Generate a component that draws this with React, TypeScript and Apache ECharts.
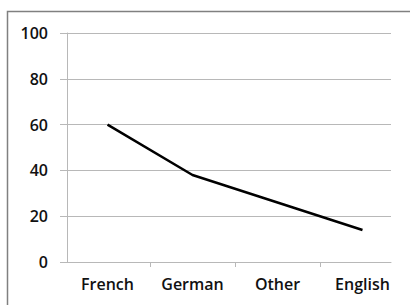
import React, { useEffect, useRef } from "react";
import * as echarts from "echarts";

const categories = ["French", "German", "Other", "English"];
const values = [60, 38, 26, 14];
const yTicks = { min: 0, max: 100, interval: 20 };
const categoryIndex = categories.map((_, i) => i);
const categoryBoundaries = categories.slice(1).map((_, i) => i + 0.5);

export default function App() {
  const ref = useRef<HTMLDivElement>(null);
  useEffect(() => {
    if (!ref.current) return;
    const chart = echarts.init(ref.current, undefined, { renderer: "svg" });
    const labelFont = {
      fontFamily: "'Open Sans', 'Noto Sans', sans-serif",
      fontSize: 16,
      fontWeight: 600,
      color: "#111",
    };
    chart.setOption({
      animation: false,
      backgroundColor: "#fff",
      graphic: [
        {
          type: "rect",
          shape: { x: 7.5, y: 11.5, width: 430, height: 330 },
          style: { fill: "none", stroke: "#808080", lineWidth: 1.5 },
          silent: true,
        },
      ],
      grid: [
        { left: 67, right: 19, top: 33, bottom: 43 },
        { left: 65, right: 5, top: 33, bottom: 43 },
      ],
      xAxis: [
        {
          type: "category",
          gridIndex: 0,
          data: categories,
          axisLine: { show: true, lineStyle: { color: "#b8b8b8", width: 1 } },
          axisTick: { show: false },
          axisLabel: { show: false },
          splitLine: { show: false },
        },
        {
          type: "value",
          gridIndex: 1,
          min: -0.5,
          max: categories.length - 0.5,
          axisLine: { show: false },
          axisTick: {
            show: true,
            length: 5,
            customValues: categoryBoundaries,
            lineStyle: { color: "#b8b8b8" },
          },
          axisLabel: {
            ...labelFont,
            margin: 14,
            customValues: categoryIndex,
            formatter: (v: number) => categories[Math.round(v)] ?? "",
          },
          splitLine: { show: false },
        },
      ],
      yAxis: [
        {
          type: "value",
          gridIndex: 0,
          ...yTicks,
          axisLine: { show: true, lineStyle: { color: "#b8b8b8", width: 1 } },
          axisTick: { show: true, inside: false, length: 7, lineStyle: { color: "#b8b8b8" } },
          axisLabel: { ...labelFont, margin: 19 },
          splitLine: { show: true, lineStyle: { color: "#b8b8b8", width: 1 } },
        },
        {
          type: "value",
          gridIndex: 1,
          ...yTicks,
          show: false,
        },
      ],
      series: [
        {
          type: "line",
          xAxisIndex: 1,
          yAxisIndex: 1,
          data: values.map((v, i) => [i, v]),
          symbol: "none",
          lineStyle: { color: "#000", width: 2.5 },
        },
      ],
    });
    return () => chart.dispose();
  }, []);
  return (
    <div
      ref={ref}
      style={{ position: "fixed", left: 0, top: 0, width: 410, height: 305 }}
    />
  );
}
